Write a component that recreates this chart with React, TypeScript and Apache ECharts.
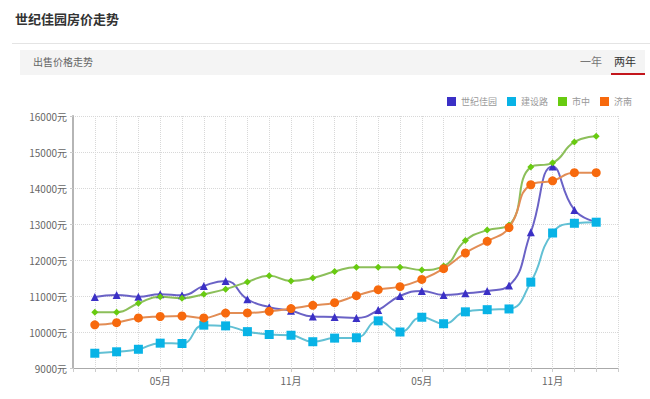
import React, { useEffect, useRef } from "react";
import * as echarts from "echarts";

const months = ["", "02月", "03月", "04月", "05月", "06月", "07月", "08月", "09月", "10月", "11月", "12月", "01月",
  "02月", "03月", "04月", "05月", "06月", "07月", "08月", "09月", "10月", "11月", "12月", "01月", ""];

const seriesNames = ["世纪佳园", "建设路", "市中", "济南"];

const shijijiayuan = [null, 10970, 11030, 10980, 11050, 11020, 11280, 11420, 10910, 10690, 10590, 10430, 10420,
  10390, 10610, 11000, 11140, 11030, 11075, 11140, 11290, 12770, 14600, 13390, 13060, null];
const jianshelu = [null, 9410, 9450, 9520, 9690, 9680, 10190, 10170, 10010, 9930, 9910, 9730, 9830,
  9840, 10310, 10000, 10410, 10230, 10560, 10620, 10640, 11385, 12750, 13020, 13050, null];
const shizhong = [null, 10550, 10550, 10800, 10980, 10940, 11050, 11190, 11390, 11560, 11420, 11500, 11680,
  11800, 11800, 11800, 11720, 11830, 12540, 12830, 12970, 14580, 14700, 15280, 15440, null];
const jinan = [null, 10200, 10260, 10390, 10430, 10445, 10390, 10525, 10530, 10575, 10650, 10740, 10815,
  11010, 11175, 11260, 11460, 11760, 12195, 12520, 12900, 14090, 14200, 14425, 14425, null];

const yTicks = [9000, 16000, 1000];

const itemColors = ["#3b30c6", "#08b3e6", "#68cb10", "#f7690d"];
const lineColors = ["#6a62c6", "#62c0d4", "#8cbf5a", "#e28d55"];
const symbols = ["triangle", "rect", "diamond", "circle"];
const symbolSizes = [8, 9, 7, 9];

const FONT = "'Noto Sans CJK SC', 'Noto Sans', sans-serif";

export default function App() {
  const ref = useRef<HTMLDivElement>(null);
  useEffect(() => {
    if (!ref.current) return;
    const chart = echarts.init(ref.current, undefined, { renderer: "svg" });
    const values = [shijijiayuan, jianshelu, shizhong, jinan];
    chart.setOption({
      animation: false,
      backgroundColor: "#ffffff",
      textStyle: { fontFamily: FONT },
      graphic: [
        { type: "text", left: 15, top: 12, style: { text: "世纪佳园房价走势", font: `bold 13px ${FONT}`, fill: "#333" } },
        { type: "rect", shape: { x: 12, y: 43, width: 638, height: 1 }, style: { fill: "#e4e4e4" } },
        { type: "rect", shape: { x: 20, y: 50, width: 625, height: 25 }, style: { fill: "#f4f4f4" } },
        { type: "text", left: 33, top: 56, style: { text: "出售价格走势", font: `10px ${FONT}`, fill: "#666" } },
        { type: "text", left: 580, top: 55, style: { text: "一年", font: `11px ${FONT}`, fill: "#777" } },
        { type: "text", left: 614, top: 55, style: { text: "两年", font: `11px ${FONT}`, fill: "#333" } },
        { type: "rect", shape: { x: 611, y: 73, width: 34, height: 2 }, style: { fill: "#c3161c" } },
      ],
      legend: {
        data: seriesNames,
        right: 13,
        top: 92,
        icon: "rect",
        itemWidth: 9,
        itemHeight: 9,
        itemGap: 10,
        textStyle: { fontSize: 9, color: "#999", fontFamily: FONT },
      },
      grid: { left: 73, right: 32, top: 116, bottom: 31, containLabel: false },
      xAxis: {
        type: "category",
        boundaryGap: false,
        data: months,
        axisLine: { lineStyle: { color: "#aaa", width: 1 } },
        axisTick: { show: true, interval: 0, length: 4, lineStyle: { color: "#ccc" } },
        axisLabel: {
          interval: (index: number) => index % 6 === 4,
          color: "#666",
          fontSize: 10,
          margin: 7,
          fontFamily: FONT,
        },
        splitLine: { show: true, interval: 0, lineStyle: { color: "#d8d8d8", type: "dotted" } },
      },
      yAxis: {
        type: "value",
        min: yTicks[0],
        max: yTicks[1],
        interval: yTicks[2],
        axisLine: { show: true, lineStyle: { color: "#b5b5b5", width: 2 } },
        axisTick: { show: true, length: 3, lineStyle: { color: "#ccc" } },
        axisLabel: { formatter: (v: number) => `${v}元`, color: "#666", fontSize: 10, margin: 6, fontFamily: FONT },
        splitLine: { show: true, lineStyle: { color: "#d8d8d8", type: "dotted" } },
      },
      series: seriesNames.map((name, i) => ({
        name,
        type: "line",
        data: values[i],
        smooth: true,
        symbol: symbols[i],
        symbolSize: symbolSizes[i],
        showAllSymbol: true,
        connectNulls: false,
        itemStyle: { color: itemColors[i] },
        lineStyle: { color: lineColors[i], width: 2 },
      })),
    });
    return () => chart.dispose();
  }, []);
  return <div ref={ref} style={{ position: "fixed", left: 0, top: 0, width: 650, height: 399 }} />;
}
